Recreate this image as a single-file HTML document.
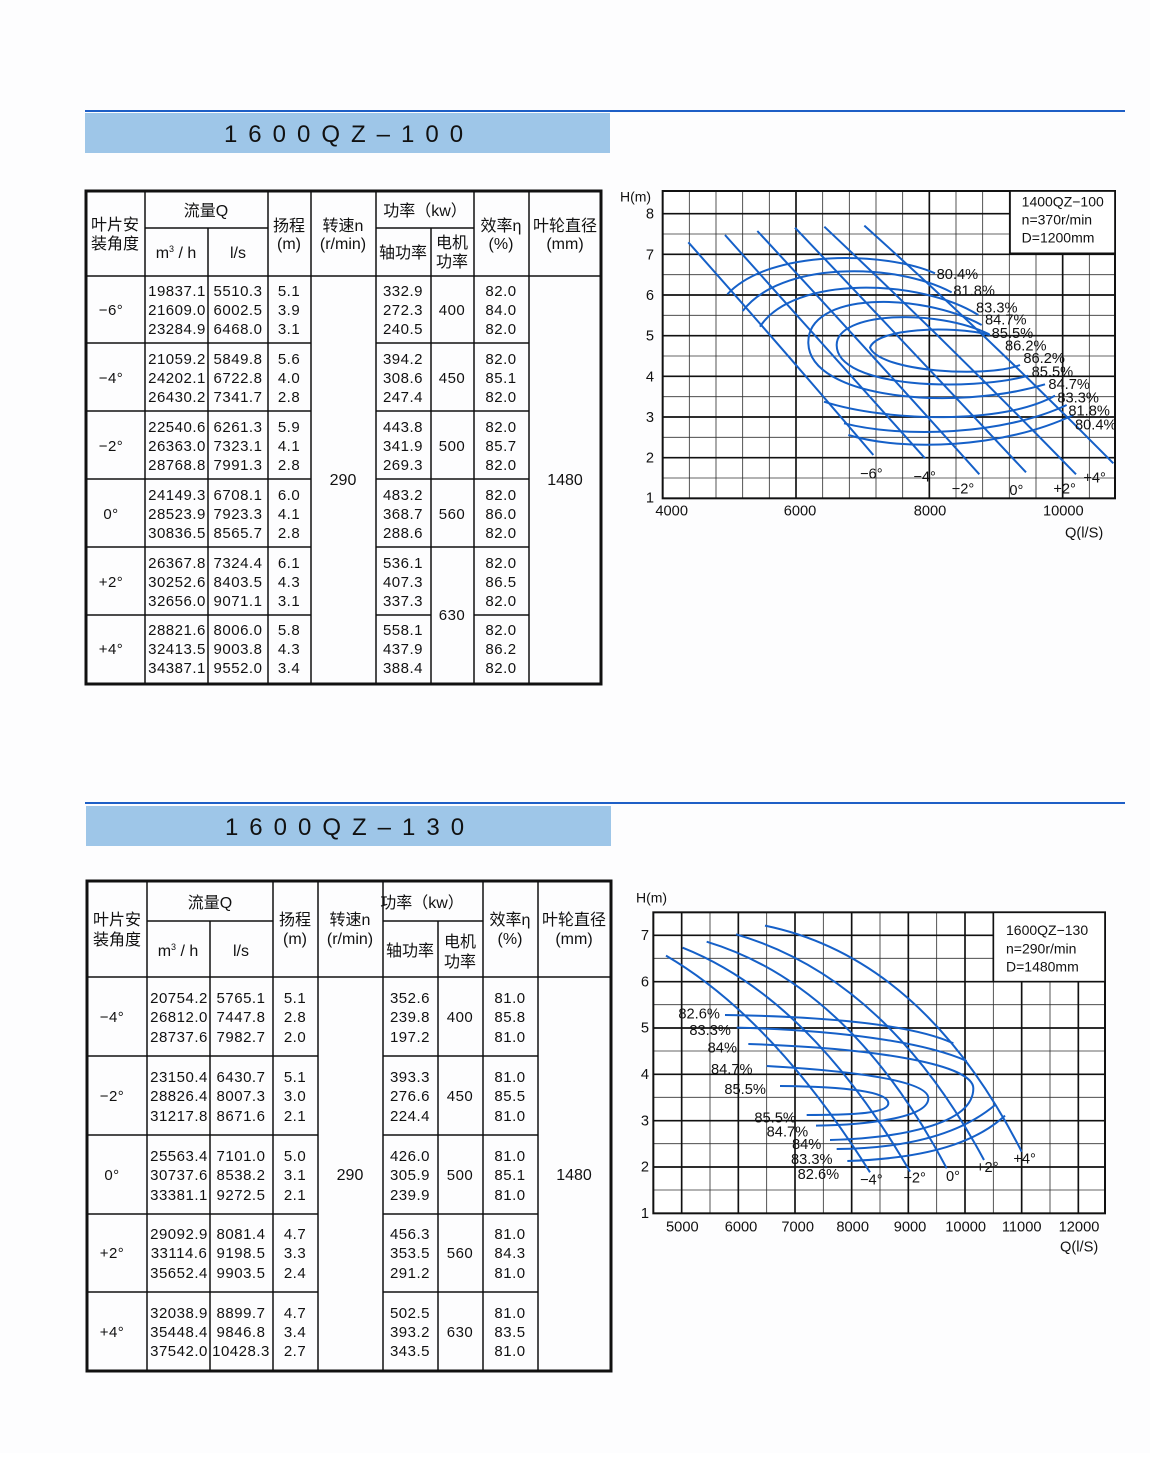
<!DOCTYPE html>
<html><head><meta charset="utf-8"><style>
html,body{margin:0;padding:0;background:#fff;}
svg text{font-family:"Liberation Sans","Noto Sans CJK SC",sans-serif;fill:#111;}
</style></head><body>
<svg width="1150" height="1453" viewBox="0 0 1150 1453" xmlns="http://www.w3.org/2000/svg">
<rect width="1150" height="1453" fill="#fdfdfe"/>
<!-- section 1 header -->
<rect x="85" y="110" width="1040" height="2" fill="#1e5fc6"/>
<rect x="85" y="113" width="525" height="40" fill="#9ec6e8"/>
<text x="349" y="142" font-size="24" text-anchor="middle" letter-spacing="11">1600QZ–100</text>
<!-- section 2 header -->
<rect x="85" y="802" width="1040" height="2" fill="#1e5fc6"/>
<rect x="86" y="806" width="525" height="40" fill="#9ec6e8"/>
<text x="350" y="835" font-size="24" text-anchor="middle" letter-spacing="11">1600QZ–130</text>

<!-- TABLE 1 -->
<g stroke="#111" stroke-width="1.5" fill="none">
<rect x="86" y="191" width="515" height="493" stroke-width="3"/>
<line x1="145" y1="191" x2="145" y2="684"/>
<line x1="208" y1="228" x2="208" y2="684"/>
<line x1="268" y1="191" x2="268" y2="684"/>
<line x1="311" y1="191" x2="311" y2="684"/>
<line x1="376" y1="191" x2="376" y2="684"/>
<line x1="431" y1="228" x2="431" y2="684"/>
<line x1="474" y1="191" x2="474" y2="684"/>
<line x1="529" y1="191" x2="529" y2="684"/>
<line x1="145" y1="228" x2="268" y2="228"/>
<line x1="376" y1="228" x2="474" y2="228"/>
<line x1="86" y1="276" x2="601" y2="276"/>
<path d="M86 343H311M376 343H529M86 411H311M376 411H529M86 479H311M376 479H529M86 547H311M376 547H529M86 615H311M376 615H431M474 615H529"/>
</g>
<g font-size="16" text-anchor="middle">
<text x="115" y="230">叶片安</text><text x="115" y="249">装角度</text>
<text x="206" y="216">流量Q</text>
<text x="176" y="258">m<tspan font-size="9" dy="-6">3</tspan><tspan dy="6"> / h</tspan></text>
<text x="238" y="258">l/s</text>
<text x="289" y="231">扬程</text><text x="289" y="249">(m)</text>
<text x="343" y="231">转速n</text><text x="343" y="249">(r/min)</text>
<text x="425" y="216">功率（kw）</text>
<text x="403" y="258">轴功率</text>
<text x="452" y="248">电机</text><text x="452" y="267">功率</text>
<text x="501" y="231">效率η</text><text x="501" y="249">(%)</text>
<text x="565" y="231">叶轮直径</text><text x="565" y="249">(mm)</text>
<text x="343" y="485">290</text><text x="565" y="485">1480</text>
</g>
<g font-size="15" text-anchor="middle" letter-spacing="0.5">
<text x="111" y="315">−6°</text>
<text x="177" y="296">19837.1</text><text x="177" y="315">21609.0</text><text x="177" y="334">23284.9</text>
<text x="238" y="296">5510.3</text><text x="238" y="315">6002.5</text><text x="238" y="334">6468.0</text>
<text x="289" y="296">5.1</text><text x="289" y="315">3.9</text><text x="289" y="334">3.1</text>
<text x="403" y="296">332.9</text><text x="403" y="315">272.3</text><text x="403" y="334">240.5</text>
<text x="452" y="315">400</text>
<text x="501" y="296">82.0</text><text x="501" y="315">84.0</text><text x="501" y="334">82.0</text>
<text x="111" y="383">−4°</text>
<text x="177" y="364">21059.2</text><text x="177" y="383">24202.1</text><text x="177" y="402">26430.2</text>
<text x="238" y="364">5849.8</text><text x="238" y="383">6722.8</text><text x="238" y="402">7341.7</text>
<text x="289" y="364">5.6</text><text x="289" y="383">4.0</text><text x="289" y="402">2.8</text>
<text x="403" y="364">394.2</text><text x="403" y="383">308.6</text><text x="403" y="402">247.4</text>
<text x="452" y="383">450</text>
<text x="501" y="364">82.0</text><text x="501" y="383">85.1</text><text x="501" y="402">82.0</text>
<text x="111" y="451">−2°</text>
<text x="177" y="432">22540.6</text><text x="177" y="451">26363.0</text><text x="177" y="470">28768.8</text>
<text x="238" y="432">6261.3</text><text x="238" y="451">7323.1</text><text x="238" y="470">7991.3</text>
<text x="289" y="432">5.9</text><text x="289" y="451">4.1</text><text x="289" y="470">2.8</text>
<text x="403" y="432">443.8</text><text x="403" y="451">341.9</text><text x="403" y="470">269.3</text>
<text x="452" y="451">500</text>
<text x="501" y="432">82.0</text><text x="501" y="451">85.7</text><text x="501" y="470">82.0</text>
<text x="111" y="519">0°</text>
<text x="177" y="500">24149.3</text><text x="177" y="519">28523.9</text><text x="177" y="538">30836.5</text>
<text x="238" y="500">6708.1</text><text x="238" y="519">7923.3</text><text x="238" y="538">8565.7</text>
<text x="289" y="500">6.0</text><text x="289" y="519">4.1</text><text x="289" y="538">2.8</text>
<text x="403" y="500">483.2</text><text x="403" y="519">368.7</text><text x="403" y="538">288.6</text>
<text x="452" y="519">560</text>
<text x="501" y="500">82.0</text><text x="501" y="519">86.0</text><text x="501" y="538">82.0</text>
<text x="111" y="587">+2°</text>
<text x="177" y="568">26367.8</text><text x="177" y="587">30252.6</text><text x="177" y="606">32656.0</text>
<text x="238" y="568">7324.4</text><text x="238" y="587">8403.5</text><text x="238" y="606">9071.1</text>
<text x="289" y="568">6.1</text><text x="289" y="587">4.3</text><text x="289" y="606">3.1</text>
<text x="403" y="568">536.1</text><text x="403" y="587">407.3</text><text x="403" y="606">337.3</text>
<text x="452" y="620">630</text>
<text x="501" y="568">82.0</text><text x="501" y="587">86.5</text><text x="501" y="606">82.0</text>
<text x="111" y="654">+4°</text>
<text x="177" y="635">28821.6</text><text x="177" y="654">32413.5</text><text x="177" y="673">34387.1</text>
<text x="238" y="635">8006.0</text><text x="238" y="654">9003.8</text><text x="238" y="673">9552.0</text>
<text x="289" y="635">5.8</text><text x="289" y="654">4.3</text><text x="289" y="673">3.4</text>
<text x="403" y="635">558.1</text><text x="403" y="654">437.9</text><text x="403" y="673">388.4</text>
<text x="501" y="635">82.0</text><text x="501" y="654">86.2</text><text x="501" y="673">82.0</text>
</g>

<!-- TABLE 2 -->
<g stroke="#111" stroke-width="1.5" fill="none">
<rect x="87" y="881" width="524" height="490" stroke-width="3"/>
<line x1="147" y1="881" x2="147" y2="1371"/>
<line x1="210" y1="921" x2="210" y2="1371"/>
<line x1="273" y1="881" x2="273" y2="1371"/>
<line x1="318" y1="881" x2="318" y2="1371"/>
<line x1="383" y1="881" x2="383" y2="1371"/>
<line x1="438" y1="921" x2="438" y2="1371"/>
<line x1="483" y1="881" x2="483" y2="1371"/>
<line x1="538" y1="881" x2="538" y2="1371"/>
<line x1="147" y1="921" x2="273" y2="921"/>
<line x1="383" y1="921" x2="483" y2="921"/>
<line x1="87" y1="977" x2="611" y2="977"/>
<path d="M87 1056H318M383 1056H538M87 1135H318M383 1135H538M87 1214H318M383 1214H538M87 1292H318M383 1292H538"/>
</g>
<g font-size="16" text-anchor="middle">
<text x="117" y="925">叶片安</text><text x="117" y="945">装角度</text>
<text x="210" y="908">流量Q</text>
<text x="178" y="956">m<tspan font-size="9" dy="-6">3</tspan><tspan dy="6"> / h</tspan></text>
<text x="241" y="956">l/s</text>
<text x="295" y="925">扬程</text><text x="295" y="944">(m)</text>
<text x="350" y="925">转速n</text><text x="350" y="944">(r/min)</text>
<text x="422" y="908">功率（kw）</text>
<text x="410" y="956">轴功率</text>
<text x="460" y="947">电机</text><text x="460" y="967">功率</text>
<text x="510" y="925">效率η</text><text x="510" y="944">(%)</text>
<text x="574" y="925">叶轮直径</text><text x="574" y="944">(mm)</text>
<text x="350" y="1180">290</text><text x="574" y="1180">1480</text>
</g>
<g font-size="15" text-anchor="middle" letter-spacing="0.5">
<text x="112" y="1022">−4°</text>
<text x="179" y="1003">20754.2</text><text x="179" y="1022">26812.0</text><text x="179" y="1042">28737.6</text>
<text x="241" y="1003">5765.1</text><text x="241" y="1022">7447.8</text><text x="241" y="1042">7982.7</text>
<text x="295" y="1003">5.1</text><text x="295" y="1022">2.8</text><text x="295" y="1042">2.0</text>
<text x="410" y="1003">352.6</text><text x="410" y="1022">239.8</text><text x="410" y="1042">197.2</text>
<text x="460" y="1022">400</text>
<text x="510" y="1003">81.0</text><text x="510" y="1022">85.8</text><text x="510" y="1042">81.0</text>
<text x="112" y="1101">−2°</text>
<text x="179" y="1082">23150.4</text><text x="179" y="1101">28826.4</text><text x="179" y="1121">31217.8</text>
<text x="241" y="1082">6430.7</text><text x="241" y="1101">8007.3</text><text x="241" y="1121">8671.6</text>
<text x="295" y="1082">5.1</text><text x="295" y="1101">3.0</text><text x="295" y="1121">2.1</text>
<text x="410" y="1082">393.3</text><text x="410" y="1101">276.6</text><text x="410" y="1121">224.4</text>
<text x="460" y="1101">450</text>
<text x="510" y="1082">81.0</text><text x="510" y="1101">85.5</text><text x="510" y="1121">81.0</text>
<text x="112" y="1180">0°</text>
<text x="179" y="1161">25563.4</text><text x="179" y="1180">30737.6</text><text x="179" y="1200">33381.1</text>
<text x="241" y="1161">7101.0</text><text x="241" y="1180">8538.2</text><text x="241" y="1200">9272.5</text>
<text x="295" y="1161">5.0</text><text x="295" y="1180">3.1</text><text x="295" y="1200">2.1</text>
<text x="410" y="1161">426.0</text><text x="410" y="1180">305.9</text><text x="410" y="1200">239.9</text>
<text x="460" y="1180">500</text>
<text x="510" y="1161">81.0</text><text x="510" y="1180">85.1</text><text x="510" y="1200">81.0</text>
<text x="112" y="1258">+2°</text>
<text x="179" y="1239">29092.9</text><text x="179" y="1258">33114.6</text><text x="179" y="1278">35652.4</text>
<text x="241" y="1239">8081.4</text><text x="241" y="1258">9198.5</text><text x="241" y="1278">9903.5</text>
<text x="295" y="1239">4.7</text><text x="295" y="1258">3.3</text><text x="295" y="1278">2.4</text>
<text x="410" y="1239">456.3</text><text x="410" y="1258">353.5</text><text x="410" y="1278">291.2</text>
<text x="460" y="1258">560</text>
<text x="510" y="1239">81.0</text><text x="510" y="1258">84.3</text><text x="510" y="1278">81.0</text>
<text x="112" y="1337">+4°</text>
<text x="179" y="1318">32038.9</text><text x="179" y="1337">35448.4</text><text x="179" y="1356">37542.0</text>
<text x="241" y="1318">8899.7</text><text x="241" y="1337">9846.8</text><text x="241" y="1356">10428.3</text>
<text x="295" y="1318">4.7</text><text x="295" y="1337">3.4</text><text x="295" y="1356">2.7</text>
<text x="410" y="1318">502.5</text><text x="410" y="1337">393.2</text><text x="410" y="1356">343.5</text>
<text x="460" y="1337">630</text>
<text x="510" y="1318">81.0</text><text x="510" y="1337">83.5</text><text x="510" y="1356">81.0</text>
</g>

<!-- CHART 1 -->
<svg x="620" y="185" width="510" height="355" viewBox="0 0 1530 1065">
<rect x="128" y="18" width="1357" height="922" fill="#fff"/>
<g stroke="#333" stroke-width="2.5">
<path d="M208 18V940M288 18V940M368 18V940M448 18V940M528 18V940M608 18V940M688 18V940M768 18V940M848 18V940M928 18V940M1008 18V940M1088 18V940M1168 18V940M1248 18V940M1328 18V940M1408 18V940"/>
<path d="M128 879H1485M128 818H1485M128 757H1485M128 696H1485M128 635H1485M128 574H1485M128 513H1485M128 452H1485M128 391H1485M128 330H1485M128 269H1485M128 208H1485M128 147H1485M128 86H1485"/>
</g>
<g stroke="#111" stroke-width="5">
<path d="M128 818H1485M128 696H1485M128 574H1485M128 452H1485M128 330H1485M128 208H1485M128 86H1485M528 18V940M928 18V940M1328 18V940"/>
</g>
<rect x="128" y="18" width="1357" height="922" fill="none" stroke="#111" stroke-width="6"/>
<rect x="1170" y="18" width="315" height="187" fill="#fff" stroke="#111" stroke-width="5"/>
<g font-size="42"><text x="1205" y="65">1400QZ−100</text><text x="1205" y="118">n=370r/min</text><text x="1205" y="172">D=1200mm</text></g>
<g stroke="#1560c8" stroke-width="6" fill="none">
<path d="M205 172Q470 470 760 810"/>
<path d="M315 150Q600 470 915 820"/>
<path d="M412 138Q730 480 1078 868"/>
<path d="M525 128Q860 480 1218 862"/>
<path d="M613 125Q990 480 1368 868"/>
<path d="M733 122Q1110 460 1480 835"/>
<path d="M945 265C800 200 450 190 322 328"/>
<path d="M685 750C850 800 1150 790 1360 690"/>
<path d="M995 322C820 230 480 230 368 378"/>
<path d="M672 715C850 760 1150 750 1340 660"/>
<path d="M1075 390C900 280 520 270 420 425"/>
<path d="M612 650C800 710 1150 720 1305 632"/>
<path d="M1085 420C900 320 560 320 565 475C570 640 1000 680 1275 598"/>
<path d="M1108 448C950 370 650 380 650 480C650 610 1050 620 1225 572"/>
<path d="M1110 450C990 420 770 430 750 488C780 560 1100 580 1200 540"/>
</g>
<g font-size="44">
<text x="950" y="282">80.4%</text><text x="1000" y="332">81.8%</text><text x="1068" y="382">83.3%</text>
<text x="1095" y="419">84.7%</text><text x="1115" y="459">85.5%</text><text x="1155" y="497">86.2%</text>
<text x="1210" y="534">86.2%</text><text x="1235" y="574">85.5%</text><text x="1285" y="612">84.7%</text>
<text x="1312" y="652">83.3%</text><text x="1345" y="692">81.8%</text><text x="1365" y="734">80.4%</text>
<text x="720" y="880">−6°</text><text x="880" y="890">−4°</text><text x="995" y="925">−2°</text>
<text x="1168" y="930">0°</text><text x="1300" y="925">+2°</text><text x="1390" y="893">+4°</text>
</g>
<g font-size="44" text-anchor="middle">
<text x="90" y="101">8</text><text x="90" y="223">7</text><text x="90" y="345">6</text><text x="90" y="467">5</text>
<text x="90" y="589">4</text><text x="90" y="711">3</text><text x="90" y="833">2</text><text x="90" y="953">1</text>
<text x="155" y="992">4000</text><text x="540" y="992">6000</text><text x="930" y="992">8000</text><text x="1330" y="992">10000</text>
</g>
<text x="0" y="50" font-size="42">H(m)</text>
<text x="1335" y="1058" font-size="44">Q(l/S)</text>
</svg>

<!-- CHART 2 -->
<svg x="630" y="885" width="490" height="370" viewBox="0 0 1470 1110">
<rect x="70" y="82" width="1355" height="903" fill="#fff"/>
<g stroke="#333" stroke-width="2.5">
<path d="M155 82V985M240 82V985M325 82V985M410 82V985M495 82V985M580 82V985M665 82V985M750 82V985M835 82V985M920 82V985M1005 82V985M1090 82V985M1175 82V985M1260 82V985M1345 82V985"/>
<path d="M70 915H1425M70 846H1425M70 776H1425M70 707H1425M70 637H1425M70 568H1425M70 498H1425M70 429H1425M70 359H1425M70 290H1425M70 220H1425M70 151H1425"/>
</g>
<g stroke="#111" stroke-width="5">
<path d="M70 846H1425M70 707H1425M70 568H1425M70 429H1425M70 290H1425M70 151H1425M155 82V985M325 82V985M495 82V985M665 82V985M835 82V985M1005 82V985M1175 82V985M1345 82V985"/>
</g>
<rect x="70" y="82" width="1355" height="903" fill="none" stroke="#111" stroke-width="6"/>
<rect x="1090" y="82" width="335" height="208" fill="#fff" stroke="#111" stroke-width="5"/>
<g font-size="42"><text x="1128" y="150">1600QZ−130</text><text x="1128" y="205">n=290r/min</text><text x="1128" y="259">D=1480mm</text></g>
<g stroke="#1560c8" stroke-width="6" fill="none">
<path d="M108 212Q430 400 720 862"/>
<path d="M158 188Q540 340 840 860"/>
<path d="M230 170Q660 300 950 850"/>
<path d="M318 148Q770 280 1062 825"/>
<path d="M405 122Q880 220 1175 800"/>
<path d="M285 390C600 395 850 420 970 475"/>
<path d="M320 428C620 435 880 470 1010 528"/>
<path d="M355 477C750 490 1030 540 1030 610C1030 720 800 760 600 765"/>
<path d="M410 543C700 560 895 590 895 640C895 700 700 720 558 722"/>
<path d="M450 603C650 605 775 620 775 655C775 690 620 690 530 690"/>
<path d="M620 792C850 790 1000 740 1095 660"/>
<path d="M652 828C900 820 1040 770 1125 692"/>
</g>
<g font-size="44">
<text x="145" y="400">82.6%</text><text x="178" y="450">83.3%</text><text x="233" y="502">84%</text>
<text x="243" y="567">84.7%</text><text x="283" y="627">85.5%</text><text x="373" y="712">85.5%</text>
<text x="410" y="754">84.7%</text><text x="486" y="792">84%</text><text x="483" y="837">83.3%</text><text x="503" y="882">82.6%</text>
<text x="690" y="898">−4°</text><text x="820" y="893">−2°</text><text x="948" y="888">0°</text>
<text x="1038" y="861">+2°</text><text x="1150" y="835">+4°</text>
</g>
<g font-size="44" text-anchor="middle">
<text x="45" y="165">7</text><text x="45" y="304">6</text><text x="45" y="443">5</text><text x="45" y="582">4</text>
<text x="45" y="721">3</text><text x="45" y="860">2</text><text x="45" y="999">1</text>
<text x="157" y="1040">5000</text><text x="333" y="1040">6000</text><text x="503" y="1040">7000</text><text x="668" y="1040">8000</text>
<text x="840" y="1040">9000</text><text x="1007" y="1040">10000</text><text x="1175" y="1040">11000</text><text x="1347" y="1040">12000</text>
</g>
<text x="18" y="52" font-size="42">H(m)</text>
<text x="1290" y="1100" font-size="44">Q(l/S)</text>
</svg>
</svg>
</body></html>
